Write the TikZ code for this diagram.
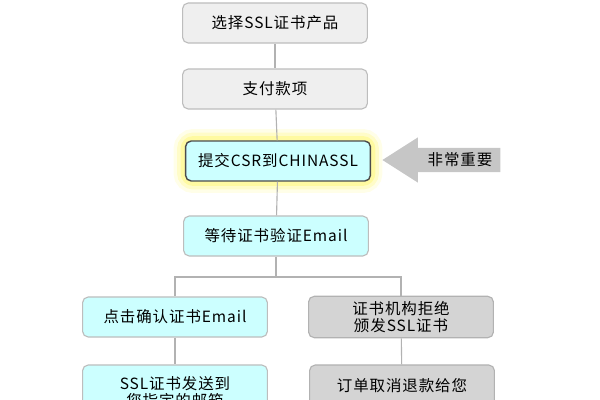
\documentclass[tikz,border=0pt]{standalone}
\usepackage{fontspec}
\usepackage{tikz}
\usetikzlibrary{shapes.arrows,backgrounds}
\newfontfamily\cjk[LetterSpace=6]{Noto Sans CJK SC}
\definecolor{boxgray}{HTML}{EFEFEF}
\definecolor{boxcyan}{HTML}{CCFFFF}
\definecolor{boxdark}{HTML}{D4D4D4}
\definecolor{edgegray}{HTML}{BDBDBD}
\tikzset{
  stepgray/.style={draw=edgegray, fill=boxgray, rounded corners=4pt, line width=0.8pt,
    minimum width=4.62cm, minimum height=1cm, align=center, font=\cjk\fontsize{11}{12.5}\selectfont},
  stepcyan/.style={stepgray, fill=boxcyan},
  stepdark/.style={stepgray, fill=boxdark, draw=gray!60},
  link/.style={draw=gray!60, line width=0.8pt}
}
\begin{document}
\begin{tikzpicture}[x=0.025cm, y=-0.025cm]
\useasboundingbox (0,0) rectangle (600,400);
\clip (0,0) rectangle (600,400);
\node[stepgray] (select) at (275,23) {选择SSL证书产品};
\node[stepgray] (pay) at (275,89) {支付款项};
\node[stepcyan, draw=black!70, line width=1pt] (submit) at (278,161) {提交CSR到CHINASSL};
\node[stepcyan] (wait) at (276,236) {等待证书验证Email};
\node[stepcyan] (confirm) at (175,317) {点击确认证书Email};
\node[stepdark] (reject) at (401,317) {证书机构拒绝\\颁发SSL证书};
\node[stepcyan, minimum height=1.35cm] (send) at (175,392) {SSL证书发送到\\您指定的邮箱};
\node[stepdark, minimum height=1.05cm] (refund) at (402,386) {订单取消退款给您};
\node[single arrow, shape border rotate=180, fill=gray!45, draw=none,
  minimum height=2.95cm, minimum width=1.12cm, single arrow head extend=0.26cm,
  single arrow tip angle=65, inner ysep=0.12cm, inner xsep=4pt,
  font=\cjk\fontsize{11}{12.5}\selectfont] (note) at (451,160) {\hspace{0.45cm}非常重要};
\coordinate (split) at (wait.south |- 0,277);
% glow round the key step
\begin{scope}[on background layer]
\foreach \w/\o in {16/0.15,11/0.25,6/0.4}
  \draw[yellow!60, line width=\w pt, opacity=\o, rounded corners=6pt]
    (submit.south west) rectangle (submit.north east);
\end{scope}
\draw[link] (select) -- (pay);
\draw[link] (pay) -- (submit);
\draw[link] (submit) -- (wait);
\draw[link] (wait.south) -- (split);
\draw[link] (confirm.north) |- (split) -| (reject.north);
\draw[link] (confirm) -- (send);
\draw[link] (reject) -- (refund);
\end{tikzpicture}
\end{document}
